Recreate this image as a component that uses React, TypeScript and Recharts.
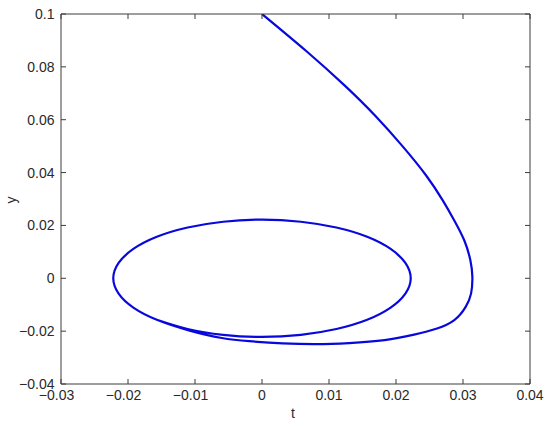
import React from "react";
import { LineChart, Line, XAxis, YAxis } from "recharts";

// trajectory from the start point down to where it joins the cycle
const approachT = [
  0, 0.0066, 0.0124, 0.0169, 0.0209, 0.0245, 0.027, 0.0287, 0.0302, 0.0311, 0.0314,
  0.0312, 0.0304, 0.0287, 0.026, 0.0227, 0.0183, 0.013, 0.0081, 0.0031, -0.0019, -0.006, -0.0108,
];
const approachY = [
  0.1, 0.086, 0.0728, 0.0615, 0.0502, 0.0389, 0.0294, 0.0219, 0.0143, 0.0068, 0.0004,
  -0.0058, -0.0108, -0.0158, -0.0191, -0.0213, -0.0234, -0.0245, -0.0249, -0.0246, -0.0238, -0.0226, -0.0198,
];

// the closed loop (limit cycle)
const cycleT = [
  -0.0157, -0.0192, -0.0214, -0.0222, -0.0214, -0.0192, -0.0157, -0.0111, -0.0058, 0,
  0.0058, 0.0111, 0.0157, 0.0192, 0.0214, 0.0222, 0.0214, 0.0192, 0.0157, 0.0111,
  0.0058, 0, -0.0058, -0.0111, -0.0157,
];
const cycleY = [
  -0.0157, -0.0111, -0.0058, 0, 0.0058, 0.0111, 0.0157, 0.0192, 0.0214, 0.0222,
  0.0214, 0.0192, 0.0157, 0.0111, 0.0058, 0, -0.0058, -0.0111, -0.0157, -0.0192,
  -0.0214, -0.0222, -0.0214, -0.0192, -0.0157,
];

const xTicks = [-0.03, -0.02, -0.01, 0, 0.01, 0.02, 0.03, 0.04];
const yTicks = [-0.04, -0.02, 0, 0.02, 0.04, 0.06, 0.08, 0.1];

const data = [
  ...approachT.map((t, i) => ({ t, y: approachY[i] })),
  ...cycleT.map((t, i) => ({ t, y: cycleY[i] })),
];

const AXIS = "#3c3c3c";
const TEXT = "#2a2a2a";
const FONT = "'Liberation Sans', Arial, sans-serif";

const fmt = (v: number) => (v === 0 ? "0" : v < 0 ? "\u2212" + String(-v) : String(v));

const XTick = (props: any) => {
  const { x, y, payload } = props;
  const v = payload.value as number;
  return (
    <text x={x} y={y} dx={v < 0 ? -4.5 : 0} dy="0.71em" textAnchor="middle"
      fontSize={14} fontFamily={FONT} fill={TEXT}>
      {fmt(v)}
    </text>
  );
};

const YTick = (props: any) => {
  const { x, y, payload } = props;
  return (
    <text x={x} y={y} dy="0.36em" textAnchor="end" fontSize={14} fontFamily={FONT} fill={TEXT}>
      {fmt(payload.value)}
    </text>
  );
};

const NoTick = () => <g />;

export default function App() {
  return (
    <div style={{ position: "absolute", left: 0, top: 0, width: 550, height: 427, background: "#fff" }}>
      <LineChart width={550} height={427} data={data} margin={{ top: 13, right: 19, bottom: 0, left: 0 }}>
        <XAxis xAxisId="b" dataKey="t" type="number" domain={[-0.03, 0.04]} ticks={xTicks}
          allowDataOverflow height={43} tickSize={-5} tickMargin={11}
          stroke={AXIS} tick={<XTick />} />
        <XAxis xAxisId="top" dataKey="t" orientation="top" type="number" domain={[-0.03, 0.04]} ticks={xTicks}
          allowDataOverflow height={1} tickSize={-5} tick={<NoTick />} stroke={AXIS} />
        <YAxis yAxisId="l" type="number" domain={[-0.04, 0.1]} ticks={yTicks}
          allowDataOverflow width={61} tickSize={-5} tickMargin={11.5}
          stroke={AXIS} tick={<YTick />} />
        <YAxis yAxisId="r" orientation="right" type="number" domain={[-0.04, 0.1]} ticks={yTicks}
          allowDataOverflow width={1} tickSize={-5} tick={<NoTick />} stroke={AXIS} />
        <Line xAxisId="top" yAxisId="r" dataKey="y" type="natural" stroke="none" strokeWidth={0}
          dot={false} isAnimationActive={false} />
        <Line xAxisId="b" yAxisId="l" dataKey="y" type="natural" stroke="#0808dc" strokeWidth={2.2}
          dot={false} isAnimationActive={false} />
      </LineChart>
      <div style={{ position: "absolute", left: 291, top: 405, fontSize: 14, fontFamily: FONT, color: TEXT }}>t</div>
      <div style={{ position: "absolute", left: 3, top: 191, fontSize: 14, fontFamily: FONT, color: TEXT,
        transform: "rotate(-90deg)", width: 16, height: 18, textAlign: "center", lineHeight: "18px" }}>y</div>
    </div>
  );
}
